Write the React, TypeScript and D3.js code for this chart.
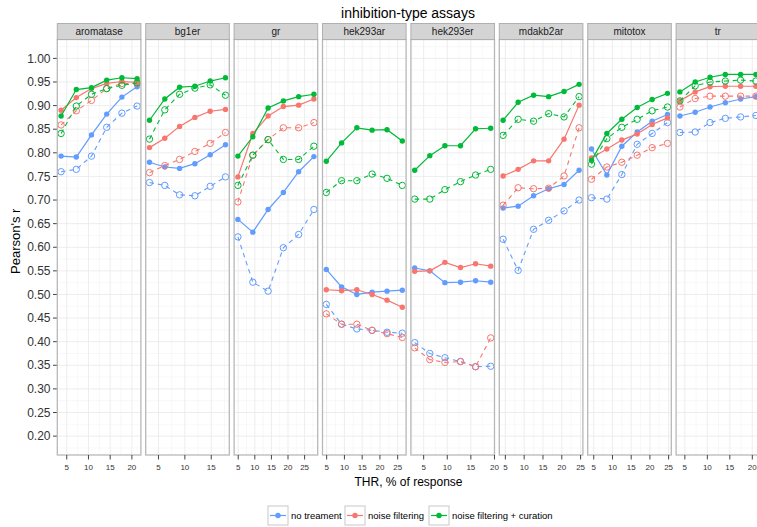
import React from "react";
import * as d3 from "d3";

const panels = ["aromatase", "bg1er", "gr", "hek293ar", "hek293er", "mdakb2ar", "mitotox", "tr"];

const thr: number[][] = [
  [3.7, 7.2, 10.7, 14.2, 17.7, 21.2],
  [3.3, 6.2, 9.0, 11.9, 14.8, 17.7],
  [4.9, 9.4, 14.0, 18.6, 23.2, 27.8],
  [4.9, 9.2, 13.5, 17.8, 22.0, 26.3],
  [3.1, 6.3, 9.5, 12.8, 16.0, 19.2],
  [4.4, 8.4, 12.5, 16.5, 20.6, 24.6],
  [4.4, 8.5, 12.5, 16.6, 20.6, 24.7],
  [3.9, 7.3, 10.6, 14.0, 17.4, 20.8],
];

// solid lines (filled points)
const noTreatmentSolid: number[][] = [
  [0.793, 0.791, 0.838, 0.882, 0.918, 0.94],
  [0.78, 0.77, 0.767, 0.777, 0.796, 0.817],
  [0.659, 0.632, 0.68, 0.716, 0.76, 0.792],
  [0.553, 0.516, 0.5, 0.505, 0.507, 0.509],
  [0.556, 0.55, 0.525, 0.526, 0.529, 0.526],
  [0.683, 0.687, 0.709, 0.724, 0.733, 0.763],
  [0.808, 0.753, 0.814, 0.844, 0.867, 0.881],
  [0.878, 0.886, 0.897, 0.906, 0.914, 0.919],
];
const noiseFilteringSolid: number[][] = [
  [0.89, 0.917, 0.936, 0.947, 0.951, 0.949],
  [0.811, 0.831, 0.856, 0.875, 0.888, 0.892],
  [0.749, 0.841, 0.878, 0.898, 0.901, 0.914],
  [0.51, 0.508, 0.51, 0.5, 0.488, 0.473],
  [0.549, 0.55, 0.568, 0.557, 0.565, 0.56],
  [0.751, 0.765, 0.783, 0.783, 0.829, 0.901],
  [0.789, 0.808, 0.827, 0.84, 0.86, 0.874],
  [0.91, 0.929, 0.94, 0.941, 0.941, 0.941],
];
const curationSolid: number[][] = [
  [0.878, 0.934, 0.938, 0.954, 0.959, 0.957],
  [0.869, 0.914, 0.939, 0.941, 0.952, 0.959],
  [0.793, 0.834, 0.895, 0.91, 0.919, 0.924],
  [0.782, 0.821, 0.853, 0.848, 0.849, 0.825],
  [0.763, 0.794, 0.815, 0.815, 0.851, 0.852],
  [0.869, 0.907, 0.922, 0.919, 0.93, 0.945],
  [0.784, 0.841, 0.871, 0.896, 0.913, 0.926],
  [0.929, 0.95, 0.96, 0.966, 0.966, 0.966],
];

// dashed lines (open points)
const noTreatmentDashed: number[][] = [
  [0.76, 0.765, 0.793, 0.854, 0.884, 0.899],
  [0.737, 0.731, 0.711, 0.709, 0.729, 0.749],
  [0.622, 0.526, 0.507, 0.599, 0.627, 0.68],
  [0.479, 0.437, 0.427, 0.424, 0.42, 0.418],
  [0.398, 0.375, 0.366, 0.358, 0.347, 0.348],
  [0.617, 0.551, 0.638, 0.657, 0.677, 0.7],
  [0.705, 0.702, 0.754, 0.818, 0.841, 0.864],
  [0.843, 0.844, 0.864, 0.873, 0.876, 0.879],
];
const noiseFilteringDashed: number[][] = [
  [0.859, 0.889, 0.911, 0.936, 0.947, 0.947],
  [0.758, 0.773, 0.786, 0.803, 0.82, 0.843],
  [0.696, 0.795, 0.828, 0.853, 0.853, 0.864],
  [0.459, 0.437, 0.437, 0.424, 0.417, 0.409],
  [0.387, 0.362, 0.356, 0.358, 0.347, 0.408],
  [0.689, 0.726, 0.724, 0.725, 0.751, 0.853],
  [0.744, 0.77, 0.78, 0.795, 0.811, 0.82],
  [0.897, 0.915, 0.92, 0.92, 0.92, 0.92],
];
const curationDashed: number[][] = [
  [0.841, 0.899, 0.924, 0.936, 0.943, 0.948],
  [0.829, 0.891, 0.924, 0.937, 0.944, 0.922],
  [0.731, 0.795, 0.828, 0.786, 0.786, 0.814],
  [0.716, 0.741, 0.741, 0.755, 0.746, 0.731],
  [0.702, 0.702, 0.722, 0.739, 0.753, 0.765],
  [0.837, 0.871, 0.867, 0.883, 0.876, 0.919],
  [0.776, 0.83, 0.854, 0.871, 0.889, 0.897],
  [0.91, 0.942, 0.95, 0.952, 0.954, 0.952],
];

const seriesNames = ["no treament", "noise filtering", "noise filtering + curation"];
const seriesColors = ["#619CFF", "#F8766D", "#00BA38"];
const yTicks = [0.2, 0.25, 0.3, 0.35, 0.4, 0.45, 0.5, 0.55, 0.6, 0.65, 0.7, 0.75, 0.8, 0.85, 0.9, 0.95, 1.0];
const xTickCandidates = [5, 10, 15, 20, 25];

const W = 757;
const H = 527;
const panelLeft0 = 57.3;
const panelStep = 88.4;
const panelWidth = 83.6;
const panelTop = 39.5;
const panelBottom = 455;
const stripTop = 23.5;
const FONT = "'Liberation Sans', Arial, Helvetica, sans-serif";

export default function App() {
  const y = d3.scaleLinear().domain([0.16, 1.04]).range([panelBottom, panelTop]);
  const solidSets = [noTreatmentSolid, noiseFilteringSolid, curationSolid];
  const dashedSets = [noTreatmentDashed, noiseFilteringDashed, curationDashed];
  const yMinor: number[] = [];
  for (let i = 0; i < yTicks.length - 1; i++) yMinor.push((yTicks[i] + yTicks[i + 1]) / 2);
  yMinor.push(yTicks[0] - 0.025, yTicks[yTicks.length - 1] + 0.025);

  const legendKeys = [268, 345, 429];
  const legendTextX = [291, 368, 452];

  return (
    <svg width={W} height={H} style={{ position: "absolute", left: 0, top: 0, background: "#fff" }} fontFamily={FONT}>
      <rect x={0} y={0} width={W} height={H} fill="#fff" />
      <text x={408} y={18} textAnchor="middle" fontSize={14} fill="#000">inhibition-type assays</text>
      {/* y axis */}
      {yTicks.map((t) => (
        <g key={"yt" + t}>
          <line x1={53} x2={panelLeft0} y1={y(t)} y2={y(t)} stroke="#444" strokeWidth={1} />
          <text x={50.5} y={y(t) + 4.2} textAnchor="end" fontSize={12} fill="#333">{t.toFixed(2)}</text>
        </g>
      ))}
      <text transform={`translate(20,${(panelTop + panelBottom) / 2 - 6}) rotate(-90)`} textAnchor="middle" fontSize={13} fill="#000">Pearson's r</text>
      {panels.map((name, pi) => {
        const left = panelLeft0 + pi * panelStep;
        const xs = thr[pi];
        const ext = d3.extent(xs) as [number, number];
        const pad = (ext[1] - ext[0]) * 0.05;
        const x = d3.scaleLinear().domain([ext[0] - pad, ext[1] + pad]).range([left, left + panelWidth]);
        const [d0, d1] = x.domain();
        const xt = xTickCandidates.filter((t) => t >= d0 - 0.01 && t <= d1 + 0.01);
        const xm: number[] = [];
        for (let v = 2.5; v <= 30; v += 5) if (v >= d0 && v <= d1) xm.push(v);
        const line = d3.line<[number, number]>().x((d) => x(d[0])).y((d) => y(d[1]));
        return (
          <g key={name}>
            <rect x={left} y={panelTop} width={panelWidth} height={panelBottom - panelTop} fill="#fff" />
            {yMinor.map((t) => (
              <line key={"ym" + t} x1={left} x2={left + panelWidth} y1={y(t)} y2={y(t)} stroke="#f4f4f4" strokeWidth={0.6} />
            ))}
            {xm.map((t) => (
              <line key={"xm" + t} x1={x(t)} x2={x(t)} y1={panelTop} y2={panelBottom} stroke="#f4f4f4" strokeWidth={0.6} />
            ))}
            {yTicks.map((t) => (
              <line key={"yg" + t} x1={left} x2={left + panelWidth} y1={y(t)} y2={y(t)} stroke="#e8e8e8" strokeWidth={0.8} />
            ))}
            {xt.map((t) => (
              <line key={"xg" + t} x1={x(t)} x2={x(t)} y1={panelTop} y2={panelBottom} stroke="#e8e8e8" strokeWidth={0.8} />
            ))}
            {/* series */}
            {[0, 1, 2].map((si) => {
              const sd: [number, number][] = xs.map((v, i) => [v, solidSets[si][pi][i]]);
              const dd: [number, number][] = xs.map((v, i) => [v, dashedSets[si][pi][i]]);
              const c = seriesColors[si];
              return (
                <g key={"s" + si}>
                  <path d={line(dd) || ""} fill="none" stroke={c} strokeWidth={1.1} strokeDasharray="4.5 4" />
                  {dd.map((p, i) => (
                    <circle key={"o" + i} cx={x(p[0])} cy={y(p[1])} r={3.2} fill="none" stroke={c} strokeWidth={1} />
                  ))}
                  <path d={line(sd) || ""} fill="none" stroke={c} strokeWidth={1.2} />
                  {sd.map((p, i) => (
                    <circle key={"f" + i} cx={x(p[0])} cy={y(p[1])} r={2.7} fill={c} />
                  ))}
                </g>
              );
            })}
            <rect x={left} y={panelTop} width={panelWidth} height={panelBottom - panelTop} fill="none" stroke="#b8b8b8" strokeWidth={1.3} />
            {/* strip */}
            <rect x={left} y={stripTop} width={panelWidth} height={panelTop - stripTop} fill="#d4d4d4" stroke="#b0b0b0" strokeWidth={1} />
            <text x={left + panelWidth / 2} y={stripTop + 11.3} textAnchor="middle" fontSize={10} fill="#1a1a1a">{name}</text>
            {/* x axis */}
            {xt.map((t) => (
              <g key={"xa" + t}>
                <line x1={x(t)} x2={x(t)} y1={panelBottom} y2={panelBottom + 4.5} stroke="#444" strokeWidth={1} />
                <text x={x(t)} y={panelBottom + 14.5} textAnchor="middle" fontSize={8} fill="#333">{t}</text>
              </g>
            ))}
          </g>
        );
      })}
      <text x={408.5} y={486} textAnchor="middle" fontSize={12} fill="#000">THR, % of response</text>
      {/* legend */}
      {seriesNames.map((n, i) => (
        <g key={n}>
          <rect x={legendKeys[i]} y={506} width={20} height={19} fill="#fff" stroke="#c8c8c8" strokeWidth={1} />
          <line x1={legendKeys[i] + 2} x2={legendKeys[i] + 18} y1={515.5} y2={515.5} stroke={seriesColors[i]} strokeWidth={1.2} />
          <circle cx={legendKeys[i] + 10} cy={515.5} r={2.7} fill={seriesColors[i]} />
          <text x={legendTextX[i]} y={519} fontSize={9.5} fill="#000">{n}</text>
        </g>
      ))}
    </svg>
  );
}
